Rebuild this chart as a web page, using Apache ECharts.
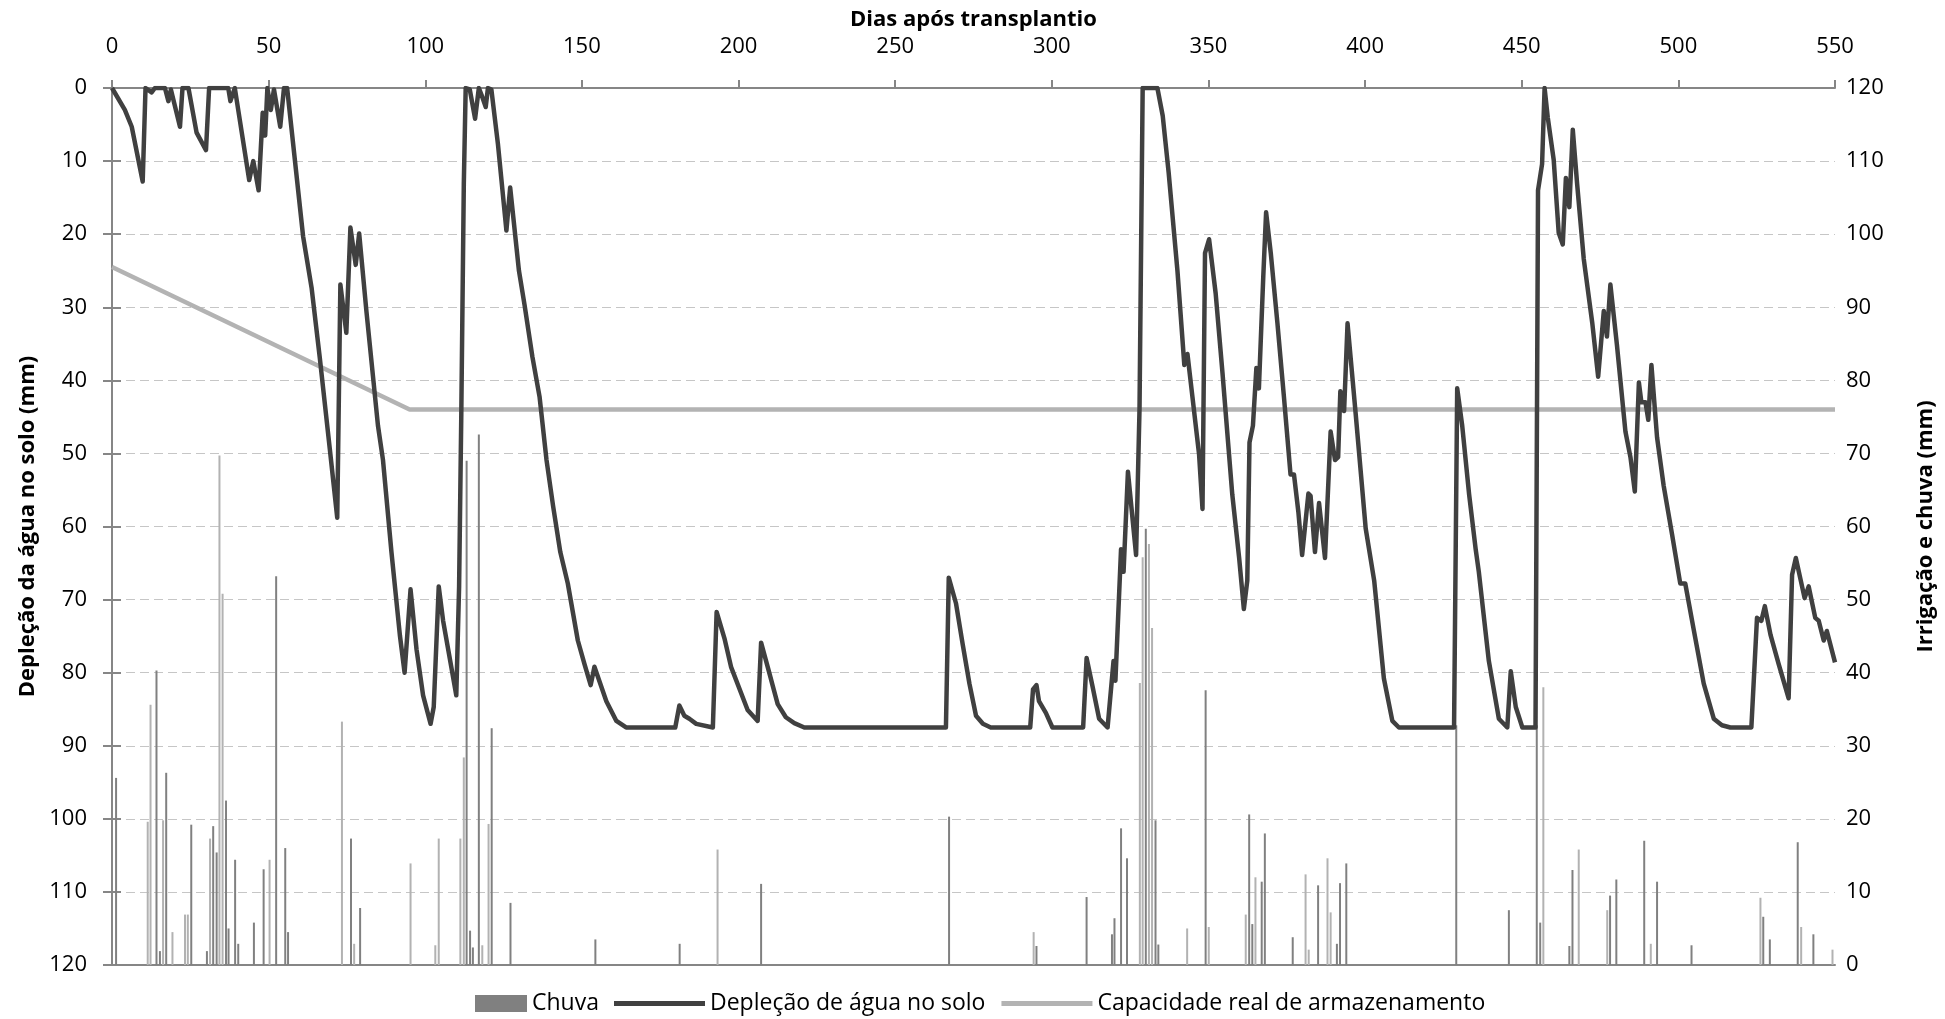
<!DOCTYPE html>
<html><head><meta charset="utf-8">
<script src="https://cdn.jsdelivr.net/npm/echarts@6/dist/echarts.min.js"></script>
<style>html,body{margin:0;padding:0;background:#fff}#c{width:1945px;height:1019px}</style>
</head><body><div id="c"></div>
<script>
// ---- data ----
const deplDays = [0,4.1,6.3,9.8,10.7,12.65,13.7,16.9,18.0,18.8,21.7,22.5,24.4,27.0,30.0,31.0,37.1,37.8,39.2,43.8,45.1,46.8,48.1,48.9,49.6,50.7,51.7,53.7,54.9,55.9,61.0,63.7,66.3,69.5,71.9,72.9,74.8,76.1,77.8,78.9,81.2,84.9,86.5,89.2,91.9,93.4,95.3,97.2,99.3,101.7,102.7,104.3,105.7,108.3,109.9,110.8,111.5,112.3,112.9,114.2,115.9,117.1,118.0,119.3,120.0,121.1,123.2,125.9,127.1,129.9,131.7,134.2,136.5,138.7,140.8,143.1,145.5,148.7,150.8,152.8,154.0,157.8,161.0,164.1,179.8,181.1,182.7,184.3,186.5,191.8,193.0,195.5,197.6,202.9,206.1,207.2,209.3,212.5,215.1,217.8,221.0,266.2,267.1,269.4,271.5,273.7,275.8,278.0,280.5,293.1,294.0,295.1,295.9,298.1,300.2,310.0,311.1,313.0,315.1,317.8,319.7,320.3,322.1,322.9,324.3,326.9,328.0,329.0,333.7,335.4,337.3,340.1,342.3,343.3,344.9,347.0,348.1,348.9,350.2,352.3,354.5,357.6,359.8,361.3,362.4,363.1,364.2,365.3,366.1,367.5,368.4,369.9,372.0,374.1,376.2,377.3,378.7,379.9,381.9,382.6,384.0,385.3,387.2,389.0,390.4,391.4,392.1,393.3,394.4,397.0,400.2,402.9,406.0,408.7,410.8,428.4,429.4,431.0,433.2,435.3,436.3,439.5,442.7,445.4,446.5,448.1,450.2,454.4,455.2,456.5,457.3,458.3,460.2,461.8,463.1,464.1,465.2,466.3,467.7,469.8,472.5,474.4,476.2,477.2,478.3,480.4,483.1,484.7,486.1,487.4,488.2,489.5,490.4,491.4,493.2,495.3,498.0,500.6,502.2,504.9,508.1,511.3,513.9,516.6,523.3,525.1,526.5,527.6,529.4,532.0,535.2,536.3,537.5,540.3,541.6,543.7,544.8,546.4,547.4,550];
const deplValues = [0,3.0,5.3,12.8,0,0.6,0,0,1.8,0.2,5.3,0,0,6.1,8.5,0,0,1.8,0,12.6,10.0,14.0,3.4,6.5,0,3.0,0.2,5.3,0,0,20.3,27.3,36.8,49.3,58.8,26.9,33.5,19.1,24.2,19.9,30.5,46.2,50.9,63.5,74.9,80.0,68.6,76.8,83.1,87.0,84.7,68.2,72.9,79.2,83.1,68.2,44.6,13.2,0,0.2,4.2,0,1.0,2.6,0,0.2,7.7,19.5,13.6,25.0,29.7,36.8,42.3,50.9,57.2,63.5,67.8,75.6,78.8,81.7,79.2,83.9,86.6,87.5,87.5,84.5,85.9,86.3,87.0,87.5,71.7,75.3,79.2,85.1,86.6,75.9,79.2,84.3,86.1,86.9,87.5,87.5,67.0,70.5,76.0,81.5,85.9,87.0,87.5,87.5,82.3,81.7,83.9,85.5,87.5,87.5,78.0,81.9,86.3,87.5,78.4,81.1,63.1,66.2,52.5,63.9,43.8,0,0,3.8,11.6,25.0,37.9,36.4,42.3,50.1,57.6,22.6,20.7,28.1,39.1,55.6,64.3,71.3,67.4,48.5,46.2,38.3,41.1,25.8,17.0,22.6,32.1,42.3,52.9,52.9,58.0,63.9,55.5,55.8,63.5,56.8,64.3,47.0,50.9,50.5,41.5,44.2,32.2,44.6,60.3,67.4,80.8,86.6,87.5,87.5,41.1,46.2,55.6,63.1,66.2,78.4,86.3,87.5,79.8,84.7,87.5,87.5,14.0,10.4,0,4.0,9.8,19.8,21.4,12.3,16.3,5.7,13.2,23.4,32.1,39.5,30.5,34.0,26.9,35.2,47.0,50.5,55.2,40.3,43.0,43.0,45.4,37.9,47.8,54.4,61.1,67.8,67.8,74.1,81.5,86.3,87.2,87.5,87.5,72.5,72.9,70.9,74.8,78.8,83.5,66.6,64.3,69.8,68.2,72.5,72.9,75.6,74.3,78.6];

const capDays = [0, 95, 550];
const capValues = [24.5, 44, 44];

const rainDays = [1.3,14.2,15.3,17.3,25.3,30.3,32.3,33.4,36.4,37.2,39.3,40.3,45.3,48.4,52.4,55.3,56.2,76.3,79.2,113.2,114.3,115.2,117.1,121.2,127.2,154.3,181.2,207.2,267.2,295.1,311.1,319.2,320.0,322.1,324.0,330.0,333.1,334.0,349.1,363.0,364.0,367.0,368.0,376.9,385.0,391.0,392.0,394.0,429.1,445.9,454.8,455.9,465.2,466.2,478.2,480.2,489.1,493.2,504.2,527.1,529.2,538.1,543.1];
const rainValues = [25.6,40.3,1.9,26.3,19.2,1.9,19.0,15.4,22.5,5.0,14.4,2.9,5.8,13.1,53.2,16.0,4.5,17.3,7.8,69.0,4.7,2.4,72.6,32.4,8.5,3.5,2.9,11.1,20.3,2.6,9.3,4.2,6.4,18.7,14.6,59.7,19.8,2.8,37.6,20.6,5.6,11.4,18.0,3.8,10.9,2.9,11.2,13.9,32.8,7.5,32.8,5.8,2.6,13.0,9.5,11.7,17.0,11.4,2.7,6.6,3.5,16.8,4.2];

const irrDays = [11.4,12.3,16.3,19.3,23.3,24.2,31.3,34.3,35.3,50.3,73.4,77.3,95.3,103.2,104.3,111.2,112.3,118.2,120.2,193.3,294.2,328.1,329.0,331.0,332.0,343.2,350.1,361.9,365.0,381.0,382.0,388.0,389.0,456.9,468.2,477.3,491.2,526.2,539.2,549.2];
const irrValues = [19.6,35.6,19.8,4.5,6.9,6.9,17.3,69.7,50.8,14.4,33.3,2.9,13.9,2.7,17.3,17.3,28.4,2.7,19.3,15.8,4.5,38.6,55.8,57.6,46.1,5.0,5.2,6.9,12.0,12.4,2.1,14.6,7.2,38.0,15.8,7.5,2.9,9.2,5.2,2.1];

const xTitle = 'Dias após transplantio';
const yLeftTitle = 'Depleção da água no solo (mm)';
const yRightTitle = 'Irrigação e chuva (mm)';
const nameRain = 'Chuva', nameIrr = 'Irrigação';
const nameDepl = 'Depleção de água no solo';
const nameCap = 'Capacidade real de armazenamento';

// ---- build ----
const zip = (a, b) => a.map((v, i) => [v, b[i]]);
const FONT = '"Open Sans", "DejaVu Sans", sans-serif';
const AX = '#868686';
const LINE_ICON = 'path://M0,0 L91,0 L91,5 L0,5 Z';
const chart = echarts.init(document.getElementById('c'), null, {renderer: 'canvas'});
chart.setOption({
  animation: false,
  backgroundColor: '#fff',
  textStyle: {fontFamily: FONT},
  grid: {left: 112, right: 109, top: 88, bottom: 54, containLabel: false},
  legend: [
    {data: [{name: nameRain, icon: 'rect'}], left: 475, top: 992, padding: 0, itemWidth: 52, itemHeight: 17,
     textStyle: {fontFamily: FONT, fontSize: 23, color: '#000'}},
    {data: [{name: nameDepl, icon: LINE_ICON}, {name: nameCap, icon: LINE_ICON}],
     left: 614, top: 992, padding: 0, itemWidth: 91, itemHeight: 5, itemGap: 16,
     textStyle: {fontFamily: FONT, fontSize: 23, color: '#000'}}
  ],
  xAxis: [
    {type: 'value', position: 'top', min: 0, max: 550, interval: 50,
     name: xTitle, nameLocation: 'middle', nameGap: 55,
     nameTextStyle: {fontFamily: FONT, fontSize: 22, fontWeight: 'bold', color: '#000'},
     axisLine: {show: true, lineStyle: {color: AX, width: 2}},
     axisTick: {show: true, inside: false, length: 8, lineStyle: {color: AX, width: 2}},
     axisLabel: {margin: 30, fontSize: 22, color: '#000', fontFamily: FONT},
     splitLine: {show: false}},
    {type: 'value', position: 'bottom', min: 0, max: 550, interval: 50,
     axisLine: {show: true, onZero: false, lineStyle: {color: AX, width: 2}},
     axisTick: {show: false}, axisLabel: {show: false}, splitLine: {show: false}}
  ],
  yAxis: [
    {type: 'value', position: 'left', inverse: true, min: 0, max: 120, interval: 10,
     name: yLeftTitle, nameLocation: 'middle', nameGap: 72, nameRotate: 90,
     nameTextStyle: {fontFamily: FONT, fontSize: 22, fontWeight: 'bold', color: '#000'},
     axisLine: {show: true, lineStyle: {color: AX, width: 2}},
     axisTick: {show: true, length: 9, lineStyle: {color: AX, width: 2}},
     axisLabel: {margin: 25, fontSize: 22, color: '#000', fontFamily: FONT},
     splitLine: {show: true, lineStyle: {color: '#c6c6c6', width: 1, type: [9, 5]}}},
    {type: 'value', position: 'right', min: 0, max: 120, interval: 10,
     name: yRightTitle, nameLocation: 'middle', nameGap: 80, nameRotate: 90,
     nameTextStyle: {fontFamily: FONT, fontSize: 22, fontWeight: 'bold', color: '#000'},
     axisLine: {show: true, lineStyle: {color: AX, width: 2}},
     axisTick: {show: true, length: 9, lineStyle: {color: AX, width: 2}},
     axisLabel: {margin: 11, fontSize: 22, color: '#000', fontFamily: FONT},
     splitLine: {show: false}}
  ],
  series: [
    {name: nameRain, type: 'bar', xAxisIndex: 0, yAxisIndex: 1, barWidth: 2, barGap: '-100%',
     itemStyle: {color: '#808080'}, data: zip(rainDays, rainValues), z: 2},
    {name: nameIrr, type: 'bar', xAxisIndex: 0, yAxisIndex: 1, barWidth: 2, barGap: '-100%',
     itemStyle: {color: '#b2b2b2'}, data: zip(irrDays, irrValues), z: 2},
    {name: nameCap, type: 'line', xAxisIndex: 0, yAxisIndex: 0, symbol: 'none', showSymbol: false,
     color: '#b3b3b3', itemStyle: {color: '#b3b3b3'},
     lineStyle: {color: '#b3b3b3', width: 4.5}, data: zip(capDays, capValues), z: 3},
    {name: nameDepl, type: 'line', xAxisIndex: 0, yAxisIndex: 0, symbol: 'none', showSymbol: false,
     color: '#404040', itemStyle: {color: '#404040'},
     lineStyle: {color: '#404040', width: 4.5, join: 'round'}, data: zip(deplDays, deplValues), z: 4}
  ]
});
</script></body></html>
